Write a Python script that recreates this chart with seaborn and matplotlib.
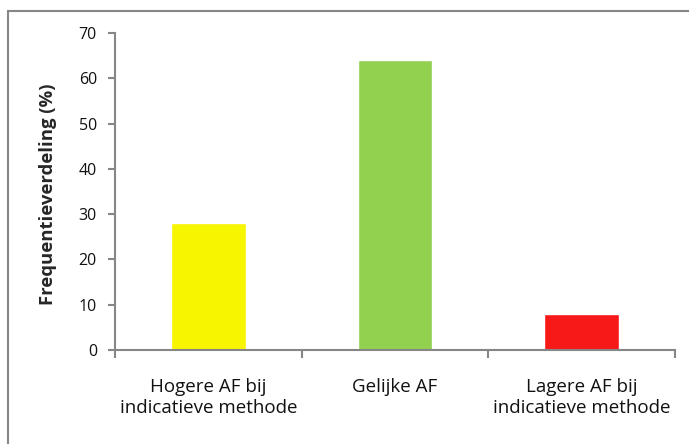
import matplotlib
matplotlib.use("Agg")
import matplotlib.pyplot as plt
from matplotlib.patches import Rectangle
import seaborn as sns
import pandas as pd

categories = ["Hogere AF bij\nindicatieve methode", "Gelijke AF", "Lagere AF bij\nindicatieve methode"]
values = [28, 64, 8]
colors = ["#F8F500", "#92D050", "#F71818"]
yticks = [0, 10, 20, 30, 40, 50, 60, 70]

sns.set_style("white")
plt.rcParams["font.family"] = ["Open Sans", "DejaVu Sans"]

df = pd.DataFrame({"categorie": categories, "waarde": values})

fig = plt.figure(figsize=(6.89, 4.44), dpi=100)
ax = fig.add_axes([115 / 689, 1 - 350 / 444, 560 / 689, 317 / 444])

sns.barplot(data=df, x="categorie", y="waarde", hue="categorie",
            palette=colors, width=0.4, ax=ax, legend=False, saturation=1)

axis_grey = "#868686"
ax.set_xlim(-0.5, 2.5)
ax.set_ylim(0, 70)
ax.set_yticks(yticks)
ax.set_yticklabels([str(t) for t in yticks], fontsize=11.5, color="#111111")
ax.set_xticks([-0.5, 0.5, 1.5, 2.5], minor=False)
ax.set_xticklabels([])
ax.set_xticks([0, 1, 2], minor=True)
ax.set_xticklabels(categories, minor=True, fontsize=13.5, color="#111111",
                   linespacing=1.2)
ax.tick_params(axis="x", which="major", bottom=True, length=6, width=1.5,
               color=axis_grey, direction="out")
ax.tick_params(axis="x", which="minor", bottom=True, length=0, pad=20)
ax.tick_params(axis="y", left=True, length=5, width=1.5, color=axis_grey,
               direction="out", pad=8)

for side in ("top", "right"):
    ax.spines[side].set_visible(False)
for side in ("left", "bottom"):
    ax.spines[side].set_color(axis_grey)
    ax.spines[side].set_linewidth(1.5)

ax.set_xlabel("")
ax.set_ylabel("Frequentieverdeling (%)", fontsize=13.3, fontweight="bold")
ax.yaxis.set_label_coords(-0.104, 0.49)

# Chart-area border (frame continues past the lower and right edges)
fig.patches.append(Rectangle((8 / 689, -0.05), 1.2, 1 - 11 / 444 + 0.05,
                             transform=fig.transFigure, fill=False,
                             edgecolor=axis_grey, linewidth=1.5, zorder=0))

fig.savefig("out.png", dpi=100, facecolor="white")
